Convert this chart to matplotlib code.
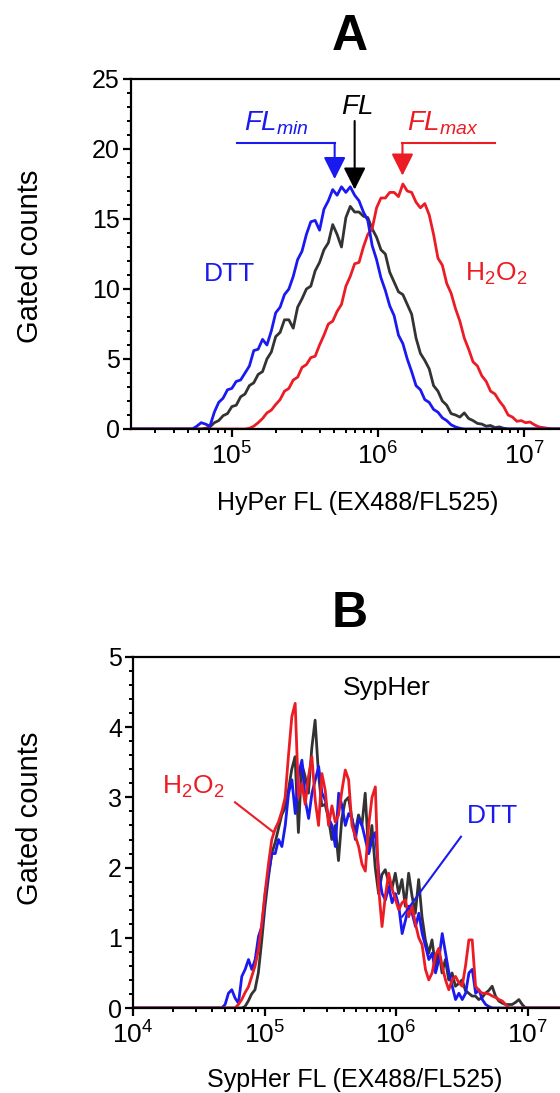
import numpy as np
import matplotlib
matplotlib.use('Agg')
import matplotlib.pyplot as plt
from matplotlib.ticker import LogLocator, MultipleLocator, NullFormatter

plt.rcParams['font.family'] = ['Liberation Sans', 'DejaVu Sans']
plt.rcParams['mathtext.fontset'] = 'custom'
plt.rcParams['mathtext.rm'] = 'Liberation Sans'
plt.rcParams['mathtext.it'] = 'Liberation Sans:italic'
plt.rcParams['mathtext.bf'] = 'Liberation Sans:bold'

BLUE = '#1a1af0'
RED = '#ec1c24'
DARK = '#333333'

# ---- panel A: HyPer, counts per bin, bins start at log10 value, 0.03 decade wide
a_step = 0.03
a_dtt_start = 4.70
a_dtt = [0, 0, 0.2, 0.45, 0.35, 0.2, 1.2, 1.9, 2.2, 2.8, 2.9, 3.4, 3.5, 4.0, 4.5,
         5.6, 5.7, 6.4, 6.0, 7.0, 8.3, 8.7, 9.6, 10.0, 10.9, 12.1, 12.7, 13.9, 14.8,
         14.9, 14.2, 15.7, 16.3, 17.1, 16.7, 17.3, 16.9, 17.3, 16.7, 16.3, 15.5, 14.9,
         13.1, 12.1, 10.8, 9.9, 8.8, 8.1, 6.7, 6.1, 5.0, 4.1, 3.1, 2.8, 2.1, 1.9, 1.4,
         1.2, 0.8, 0.6, 0.3, 0.15, 0.05, 0]
a_fl_start = 4.79
a_fl = [0, 0.05, 0.15, 0.45, 0.6, 0.95, 1.1, 1.6, 1.7, 2.3, 2.5, 3.1, 3.3, 3.9, 4.1,
        5.0, 5.5, 6.6, 6.9, 7.8, 7.8, 7.2, 8.7, 9.3, 10.0, 10.2, 11.3, 11.9, 12.8, 13.3,
        14.6, 13.9, 13.0, 15.1, 15.9, 15.5, 15.5, 15.2, 15.1, 14.3, 13.7, 12.8, 12.5,
        11.2, 10.5, 9.8, 9.6, 8.9, 8.2, 6.5, 5.4, 4.9, 4.3, 3.1, 2.7, 2.0, 1.7, 1.1,
        1.0, 0.85, 1.15, 0.75, 0.6, 0.4, 0.35, 0.2, 0.25, 0.1, 0.15, 0.05, 0]
a_h2o2_start = 5.09
a_h2o2 = [0, 0.05, 0.2, 0.45, 0.75, 1.15, 1.35, 1.75, 2.1, 2.7, 2.9, 3.5, 3.7, 4.4, 4.6,
          5.1, 5.2, 6.0, 6.7, 7.5, 7.7, 8.4, 8.9, 10.2, 10.9, 11.8, 11.9, 13.0, 13.9,
          14.3, 15.8, 16.5, 16.5, 16.9, 16.9, 16.6, 17.5, 17.0, 16.9, 16.2, 15.8, 16.1,
          15.3, 13.9, 12.2, 11.7, 10.4, 9.7, 8.6, 7.7, 6.5, 5.7, 4.8, 4.5, 3.8, 3.4,
          2.7, 2.5, 2.0, 1.6, 1.0, 0.85, 0.55, 0.6, 0.45, 0.5, 0.3, 0.15, 0.1, 0.05, 0]

# ---- panel B: SypHer, 0.0254 decade bins
b_step = 0.0254
b_dtt_start = 4.675
b_dtt = [0, 0.05, 0.21, 0.26, 0.14, 0.07, 0.45, 0.55, 0.69, 0.55, 0.69, 1.02, 1.16,
         1.63, 1.92, 2.2, 2.2, 2.4, 2.3, 2.6, 3.06, 3.25, 2.77, 3.34, 3.53, 2.96, 2.7,
         3.06, 3.25, 3.44, 3.06, 2.96, 2.7, 2.6, 2.3, 3.06, 2.88, 2.6, 2.77, 2.7, 2.4,
         2.7, 2.6, 2.4, 2.2, 2.4, 2.5, 1.92, 1.63, 1.54, 1.73, 1.5, 1.63, 1.45, 1.06,
         1.25, 1.45, 1.35, 1.16, 1.35, 1.06, 0.88, 0.69, 0.78, 0.5, 0.69, 1.06, 0.78,
         0.5, 0.31, 0.12, 0.21, 0.12, 0.21, 0.5, 0.55, 0.21, 0.26, 0.12, 0.05, 0.02, 0]
b_fl_start = 4.826
b_fl = [0, 0.02, 0.1, 0.2, 0.26, 0.5, 0.95, 1.45, 1.85, 2.2, 2.35, 2.55, 2.75, 2.85,
        3.1, 3.4, 3.58, 2.5, 3.48, 3.3, 3.06, 3.7, 4.1, 3.34, 2.88, 2.9, 2.7, 2.4, 2.6,
        2.1, 2.7, 2.95, 3.0, 2.7, 2.5, 2.75, 2.6, 3.06, 2.2, 2.6, 2.0, 1.63, 1.9, 1.97,
        1.8, 1.7, 1.92, 1.63, 1.83, 1.45, 1.92, 1.6, 1.35, 1.83, 1.3, 0.97, 0.78, 0.97,
        0.6, 0.83, 0.5, 0.69, 0.4, 0.5, 0.31, 0.35, 0.4, 0.25, 0.21, 0.17, 0.17, 0.12,
        0.15, 0.21, 0.25, 0.31, 0.17, 0.1, 0.07, 0.05, 0.05, 0.05, 0.08, 0.12, 0.05, 0]
b_h2o2_start = 4.776
b_h2o2 = [0, 0.05, 0.12, 0.22, 0.3, 0.45, 0.6, 0.83, 1.2, 1.65, 2.05, 2.4, 2.55, 2.65,
          2.8, 3.0, 3.6, 4.15, 4.34, 3.0, 3.2, 2.9, 3.3, 3.58, 2.96, 2.6, 3.34, 3.1, 2.6,
          2.88, 2.65, 2.75, 3.1, 3.39, 3.25, 2.6, 2.45, 2.3, 2.05, 1.95, 2.6, 3.0, 3.15,
          1.7, 1.16, 1.6, 1.92, 1.7, 1.55, 1.4, 1.5, 1.54, 1.3, 1.45, 1.2, 1.0, 0.9,
          0.55, 0.4, 0.5, 0.75, 0.85, 0.6, 0.4, 0.26, 0.4, 0.45, 0.36, 0.31, 0.6, 0.97,
          0.97, 0.31, 0.25, 0.21, 0.21, 0.2, 0.17, 0.15, 0.12, 0.1, 0.05, 0]

a_xlim = (10 ** 4.31, 10 ** 7.245)
b_xlim = (1e4, 10 ** 7.247)


def trace(start, step, counts, lim):
    # bin centres on log scale, padded with zero out to the axis ends
    x = 10 ** (start + step * np.arange(len(counts)))
    x = np.concatenate([[lim[0]], x, [lim[1]]])
    y = np.concatenate([[0], counts, [0]])
    return x, y


def style_axes(ax, xlim, ylim, ymajor, yminor):
    ax.set_xscale('log')
    ax.set_xlim(*xlim)
    ax.set_ylim(*ylim)
    ax.spines['right'].set_visible(False)
    for s in ['left', 'bottom', 'top']:
        ax.spines[s].set_linewidth(1.6)
    ax.yaxis.set_major_locator(MultipleLocator(ymajor))
    ax.yaxis.set_minor_locator(MultipleLocator(yminor))
    ax.xaxis.set_major_locator(LogLocator(base=10))
    ax.xaxis.set_minor_locator(LogLocator(base=10, subs=np.arange(2, 10)))
    ax.xaxis.set_minor_formatter(NullFormatter())
    ax.tick_params(which='major', direction='out', length=6, width=1.6, pad=3)
    ax.tick_params(which='minor', direction='out', length=3, width=1.4)
    ax.tick_params(axis='y', labelsize=18, pad=2)
    ax.tick_params(axis='x', labelsize=19, pad=4)


fig = plt.figure(figsize=(5.6, 10.93), dpi=100)
W, H = 560, 1093

# ---------------- panel A
axA = fig.add_axes([131 / W, 1 - 429 / H, 1 - 131 / W, 350 / H])
style_axes(axA, a_xlim, (0, 25), 5, 1)
axA.plot(*trace(a_fl_start, a_step, a_fl, a_xlim), color=DARK, lw=2)
axA.plot(*trace(a_h2o2_start, a_step, a_h2o2, a_xlim), color=RED, lw=2)
axA.plot(*trace(a_dtt_start, a_step, a_dtt, a_xlim), color=BLUE, lw=2)

head = dict(arrowstyle='-|>,head_length=0.9,head_width=0.45', mutation_scale=15,
            shrinkA=0, shrinkB=0, lw=1.5)
axA.plot([1.08e5, 5.05e5], [20.44, 20.44], color=BLUE, lw=1.5)
axA.annotate('', xy=(5.05e5, 17.85), xytext=(5.05e5, 20.44),
             arrowprops=dict(color=BLUE, **head))
axA.annotate('', xy=(6.92e5, 17.1), xytext=(6.92e5, 22.0),
             arrowprops=dict(color='black', **head))
axA.plot([6.35e6, 1.47e6], [20.44, 20.44], color=RED, lw=1.5)
axA.annotate('', xy=(1.47e6, 18.1), xytext=(1.47e6, 20.44),
             arrowprops=dict(color=RED, **head))

axA.text(10 ** 5.085, 21.3, r'$\mathit{FL}_{\mathit{min}}$', color=BLUE,
         fontsize=20, ha='left', va='baseline')
axA.text(10 ** 5.745, 22.5, r'$\mathit{FL}$', color='black',
         fontsize=20, ha='left', va='baseline')
axA.text(10 ** 6.198, 21.3, r'$\mathit{FL}_{\mathit{max}}$', color=RED,
         fontsize=20, ha='left', va='baseline')
axA.text(9.7e4, 11.1, 'DTT', color=BLUE, fontsize=19, ha='center', va='center')
axA.text(6.46e6, 11.1, r'H$_2$O$_2$', color=RED, fontsize=19, ha='center', va='center')

fig.text(350 / W, 1 - 37 / H, 'A', fontsize=36, fontweight='bold', ha='center', va='center')
fig.text(30 / W, 1 - 256 / H, 'Gated counts', fontsize=21, rotation=90, ha='center', va='center')
fig.text(358 / W, 1 - 503 / H, 'HyPer FL (EX488/FL525)', fontsize=18, ha='center', va='center')

# ---------------- panel B
axB = fig.add_axes([133 / W, 1 - 1008 / H, 1 - 133 / W, 351 / H])
style_axes(axB, b_xlim, (0, 5), 1, 0.2)
axB.plot(*trace(b_fl_start, b_step, b_fl, b_xlim), color=DARK, lw=2)
axB.plot(*trace(b_dtt_start, b_step, b_dtt, b_xlim), color=BLUE, lw=2)
axB.plot(*trace(b_h2o2_start, b_step, b_h2o2, b_xlim), color=RED, lw=2)

axB.plot([10 ** 4.776, 10 ** 5.065], [2.93, 2.51], color=RED, lw=1.5)
axB.plot([10 ** 6.494, 10 ** 6.046], [2.44, 1.30], color=BLUE, lw=1.5)
axB.text(10 ** 4.456, 3.15, r'H$_2$O$_2$', color=RED, fontsize=19, ha='center', va='center')
axB.text(10 ** 6.73, 2.73, 'DTT', color=BLUE, fontsize=19, ha='center', va='center')
axB.text(10 ** 5.93, 4.56, 'SypHer', color='black', fontsize=19, ha='center', va='center')

fig.text(350 / W, 1 - 614 / H, 'B', fontsize=36, fontweight='bold', ha='center', va='center')
fig.text(30 / W, 1 - 818 / H, 'Gated counts', fontsize=21, rotation=90, ha='center', va='center')
fig.text(355 / W, 1 - 1080 / H, 'SypHer FL (EX488/FL525)', fontsize=18, ha='center', va='center')

fig.savefig('out.png', dpi=100)
